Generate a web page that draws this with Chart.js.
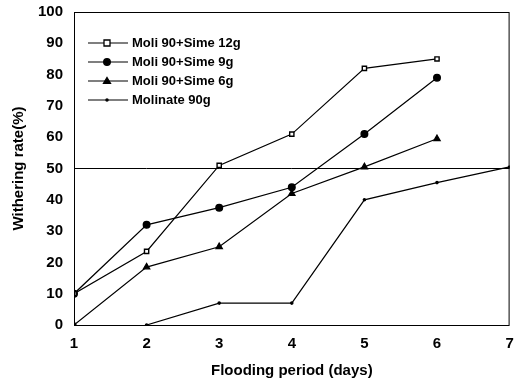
<!DOCTYPE html>
<html>
<head>
<meta charset="utf-8">
<script src="https://cdn.jsdelivr.net/npm/chart.js@4"></script>
<style>
  html, body { margin: 0; padding: 0; background: #fff; }
  #wrap { width: 515px; height: 384px; }
</style>
</head>
<body>
<div id="wrap"><canvas id="grafico" width="515" height="384"></canvas></div>
<script>
const days = [1, 2, 3, 4, 5, 6, 7];
const yTicks = [0, 10, 20, 30, 40, 50, 60, 70, 80, 90, 100];
const seriesNames = ['Moli 90+Sime 12g', 'Moli 90+Sime 9g', 'Moli 90+Sime 6g', 'Molinate 90g'];
const sime12 = [10, 23.5, 51, 61, 82, 85, null];
const sime9 = [10, 32, 37.5, 44, 61, 79, null];
const sime6 = [0, 18.5, 25, 42, 50.5, 59.5, null];
const molinate = [null, 0, 7, 7, 40, 45.5, 50.5];
const refLine = [50, 50, 50, 50, 50, 50, 50];

const font = { family: 'Arial, "Liberation Sans", sans-serif', size: 15, weight: 'bold' };

function pts(arr) {
    return days.map((d, i) => ({ x: d, y: arr[i] }));
}

const styles = [
    { pointStyle: 'rect', radius: 3, fill: '#fff' },
    { pointStyle: 'circle', radius: 3.3, fill: '#000' },
    { pointStyle: 'triangle', radius: 3.5, fill: '#000' },
    { pointStyle: 'circle', radius: 1.1, fill: '#000' }
];
const valores = [sime12, sime9, sime6, molinate];

const datasets = valores.map((v, i) => ({
    label: seriesNames[i],
    data: pts(v),
    borderColor: '#000',
    borderWidth: 1.2,
    pointStyle: styles[i].pointStyle,
    pointRadius: styles[i].radius,
    pointBackgroundColor: styles[i].fill,
    pointBorderColor: '#000',
    pointBorderWidth: 1.4,
    spanGaps: false
}));
datasets.push({
    label: 'ref',
    data: pts(refLine),
    borderColor: '#000',
    borderWidth: 1,
    pointRadius: 0
});

// legenda dentro da area do grafico + moldura
const legendaInterna = {
    id: 'legendaInterna',
    afterDatasetsDraw(chart) {
        const ctx = chart.ctx;
        const a = chart.chartArea;
        ctx.save();
        ctx.strokeStyle = '#000';
        ctx.lineWidth = 1;
        ctx.strokeRect(a.left + 0.5, a.top + 0.5, a.right - a.left - 1, a.bottom - a.top);
        const x0 = a.left + 14;
        let y = a.top + 31;
        ctx.font = 'bold 13px Arial, "Liberation Sans", sans-serif';
        ctx.textBaseline = 'middle';
        ctx.fillStyle = '#000';
        seriesNames.forEach((nome, i) => {
            ctx.beginPath();
            ctx.moveTo(x0, y);
            ctx.lineTo(x0 + 40, y);
            ctx.lineWidth = 1.2;
            ctx.stroke();
            const s = styles[i];
            const cx = x0 + 19;
            ctx.beginPath();
            if (s.pointStyle === 'rect') {
                ctx.rect(cx - s.radius, y - s.radius, s.radius * 2, s.radius * 2);
            } else if (s.pointStyle === 'triangle') {
                ctx.moveTo(cx, y - s.radius);
                ctx.lineTo(cx + s.radius, y + s.radius * 0.7);
                ctx.lineTo(cx - s.radius, y + s.radius * 0.7);
                ctx.closePath();
            } else {
                ctx.arc(cx, y, s.radius, 0, Math.PI * 2);
            }
            ctx.fillStyle = s.fill;
            ctx.fill();
            ctx.lineWidth = 1.3;
            ctx.stroke();
            ctx.fillStyle = '#000';
            ctx.fillText(nome, x0 + 44, y);
            y += 19;
        });
        ctx.restore();
    }
};

new Chart(document.getElementById('grafico'), {
    type: 'line',
    data: { datasets: datasets },
    options: {
        responsive: false,
        animation: false,
        layout: { padding: { top: 12, right: -4, left: 0, bottom: 0 } },
        plugins: {
            legend: { display: false },
            tooltip: { enabled: false }
        },
        scales: {
            x: {
                type: 'linear',
                min: 1,
                max: 7,
                afterBuildTicks: s => { s.ticks = days.map(v => ({ value: v })); },
                afterFit: s => { s.height = 59; s.paddingRight = 0; s.paddingLeft = 0; },
                grid: { display: false, drawTicks: false },
                border: { display: false },
                ticks: { color: '#000', font: font, padding: 10 },
                title: { display: true, text: 'Flooding period (days)', color: '#000', font: font, padding: { top: 10 } }
            },
            y: {
                min: 0,
                max: 100,
                afterBuildTicks: s => { s.ticks = yTicks.map(v => ({ value: v })); },
                afterFit: s => { s.width = 74; s.paddingTop = 0; s.paddingBottom = 0; },
                grid: { display: false, drawTicks: false },
                border: { display: false },
                ticks: { color: '#000', font: font, padding: 11 },
                title: { display: true, text: 'Withering rate(%)', color: '#000', font: font, padding: { top: 10, bottom: 4 } }
            }
        }
    },
    plugins: [legendaInterna]
});
</script>
</body>
</html>
